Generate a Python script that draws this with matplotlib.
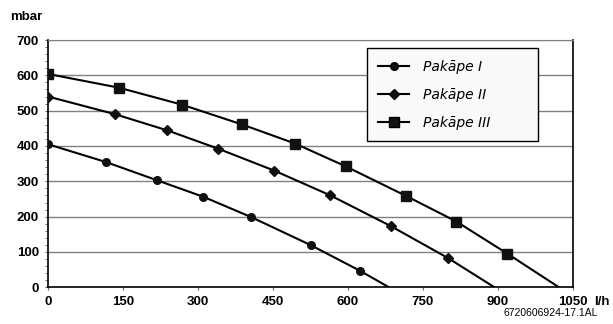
import matplotlib
matplotlib.use('Agg')
import matplotlib.pyplot as plt
from matplotlib.lines import Line2D

plt.rcParams['font.family'] = ['Liberation Sans', 'DejaVu Sans']

# Pakāpe I (circles)
flow_1 = [0, 117, 218, 311, 406, 526, 625, 682]
pres_1 = [405, 354, 303, 256, 199, 119, 46, 0]
# Pakāpe II (diamonds)
flow_2 = [0, 134, 239, 341, 453, 565, 686, 801, 893]
pres_2 = [540, 490, 444, 392, 330, 260, 173, 82, 0]
# Pakāpe III (squares)
flow_3 = [0, 142, 268, 388, 494, 596, 717, 817, 919, 1022]
pres_3 = [604, 565, 517, 461, 407, 342, 258, 186, 95, 0]

x_ticks = [0, 150, 300, 450, 600, 750, 900, 1050]
y_ticks = [0, 100, 200, 300, 400, 500, 600, 700]
labels = ['Pakāpe I', 'Pakāpe II', 'Pakāpe III']

fig = plt.figure(figsize=(6.13, 3.24), dpi=100)
ax = fig.add_axes([0.0783, 0.1133, 0.8564, 0.7632])

for y in y_ticks[1:]:
    ax.axhline(y, color='#808080', lw=1.0, zorder=1)

series = [(flow_1, pres_1, 'o', 5.5), (flow_2, pres_2, 'D', 5.0), (flow_3, pres_3, 's', 7.0)]
for (fx, py, m, ms), lab in zip(series, labels):
    ax.plot(fx, py, color='black', lw=1.5, zorder=3)
    ax.plot(fx[:-1], py[:-1], ls='none', marker=m, ms=ms, color='#111111', zorder=4)

ax.set_xlim(0, 1050)
ax.set_ylim(0, 700)
ax.set_xticks(x_ticks)
ax.set_yticks(y_ticks)
ax.set_yticks(range(0, 701, 20), minor=True)
ax.tick_params(axis='both', which='major', length=2.5, width=0.8, color='#666666',
               labelsize=9.5, pad=4)
ax.tick_params(axis='y', which='minor', length=2, width=0.6, color='#666666')
for t in ax.get_xticklabels() + ax.get_yticklabels():
    t.set_fontweight('bold')
for s in ['left', 'bottom', 'right']:
    ax.spines[s].set_linewidth(1.2)
ax.spines['top'].set_color('#808080')

# legend: line handles with markers, wide box
handles = [Line2D([], [], color='black', lw=1.5, marker=m, ms=ms, markerfacecolor='#111111')
           for (_, _, m, ms) in series]
leg = ax.legend(handles, labels, loc='upper left', mode='expand',
                bbox_to_anchor=(0.607, 0.968, 0.326, 0.0),
                fancybox=False, edgecolor='black', facecolor='#f9f9f9', framealpha=1,
                prop={'style': 'italic', 'size': 10, 'family': ['DejaVu Sans']},
                handlelength=2.2, borderpad=0.85, labelspacing=1.0, handletextpad=1.0,
                borderaxespad=0)
leg.get_frame().set_linewidth(1.0)
leg.set_zorder(5)

fig.text(10 / 613, 1 - 17 / 324, 'mbar', fontsize=9.5, fontweight='bold', ha='left', va='center')
fig.text(594 / 613, 1 - 302 / 324, 'l/h', fontsize=9.5, fontweight='bold', ha='left', va='center')
fig.text(598 / 613, 1 - 313 / 324, '6720606924-17.1AL', fontsize=7.5, ha='right', va='center')

fig.savefig('out.png', dpi=100)
